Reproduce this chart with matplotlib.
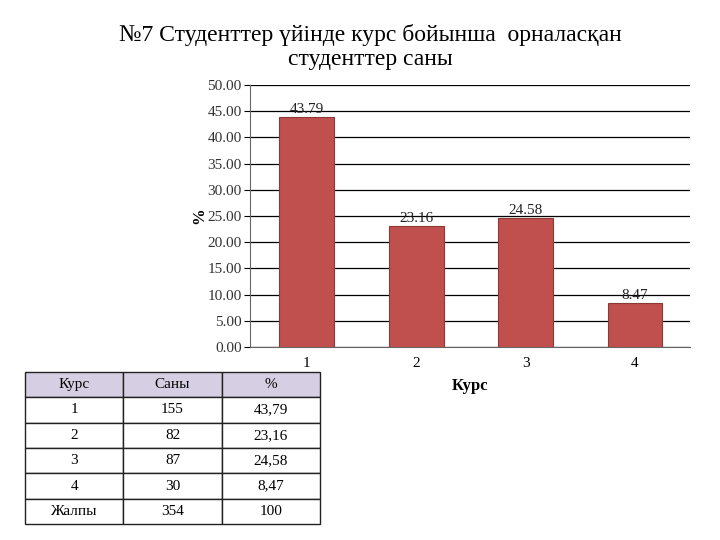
import matplotlib.pyplot as plt

plt.rcParams['font.family'] = ['Liberation Serif', 'DejaVu Serif']

# data
kurs = [1, 2, 3, 4]
sany = [155, 82, 87, 30]
percent = [43.79, 23.16, 24.58, 8.47]
total_label = 'Жалпы'
total_sany = 354
total_pct = '100'

fig = plt.figure(figsize=(7.2, 5.4), dpi=100)

fig.text(0.515, 0.935, '№7 Студенттер үйінде курс бойынша  орналасқан',
         ha='center', va='center', fontsize=17)
fig.text(0.515, 0.889, 'студенттер саны', ha='center', va='center', fontsize=17)

ax = fig.add_axes([0.347, 0.357, 0.611, 0.486])
bars = ax.bar(kurs, percent, width=0.5, color='#c0504d', edgecolor='#8c3836',
              linewidth=0.8, zorder=3)
for b, v in zip(bars, percent):
    ax.text(b.get_x() + b.get_width() / 2, v + 0.2, f'{v:.2f}',
            ha='center', va='bottom', fontsize=11, color='#222222')

ax.set_ylim(0, 50)
ax.set_xlim(0.48, 4.5)
ax.set_yticks(range(0, 51, 5))
ax.set_yticklabels([f'{t:.2f}' for t in range(0, 51, 5)], fontsize=11, color='#333333')
ax.set_xticks(kurs)
ax.set_xticklabels([str(k) for k in kurs], fontsize=11)
ax.tick_params(axis='x', length=0, pad=7)
ax.tick_params(axis='y', length=4, direction='out', pad=2)
ax.yaxis.grid(True, color='black', linewidth=0.9, zorder=0)
for s in ['top', 'right']:
    ax.spines[s].set_visible(False)
ax.spines['left'].set_color('#666666')
ax.spines['bottom'].set_color('#666666')
ax.set_ylabel('%', fontsize=12, fontweight='bold', labelpad=0)
ax.set_xlabel('Курс', fontsize=12, fontweight='bold', labelpad=6)

# table
tax = fig.add_axes([25 / 720, 1 - 524 / 540, 295 / 720, 152 / 540])
tax.axis('off')
rows = [['Курс', 'Саны', '%']]
for k, s, p in zip(kurs, sany, percent):
    rows.append([str(k), str(s), f'{p:.2f}'.replace('.', ',')])
rows.append([total_label, str(total_sany), total_pct])
tbl = tax.table(cellText=rows, bbox=[0, 0, 1, 1], cellLoc='center')
tbl.auto_set_font_size(False)
for (r, c), cell in tbl.get_celld().items():
    cell.set_fontsize(11)
    cell.set_linewidth(1.0)
    cell.set_edgecolor('#222222')
    if r == 0:
        cell.set_facecolor('#d6cfe4')

fig.savefig('out.png', dpi=100)
